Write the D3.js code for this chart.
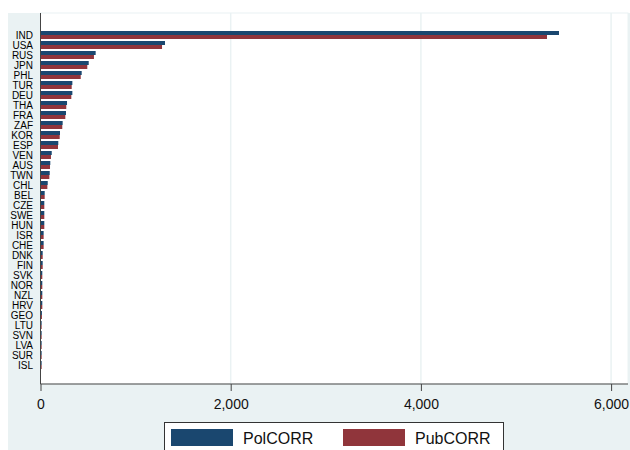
<!DOCTYPE html>
<html>
<head>
<meta charset="utf-8">
<script src="https://cdn.jsdelivr.net/npm/d3@7"></script>
<style>
  body { margin: 0; background: #fff; }
  svg text { font-family: "Liberation Sans", Arial, sans-serif; }
</style>
</head>
<body>
<script>
const w = 630;
const h = 450;

// data
const countries = ["IND","USA","RUS","JPN","PHL","TUR","DEU","THA","FRA","ZAF","KOR","ESP",
  "VEN","AUS","TWN","CHL","BEL","CZE","SWE","HUN","ISR","CHE","DNK","FIN",
  "SVK","NOR","NZL","HRV","GEO","LTU","SVN","LVA","SUR","ISL"];
const polCorr = [5452,1309,580,507,433,335,335,279,268,233,205,187,
  118,103,97,76,44,40,40,40,33,33,23,23,
  19,19,19,19,15,12,12,12,12,12];
const pubCorr = [5326,1278,562,492,423,328,324,271,261,229,202,184,
  110,100,93,72,44,40,40,40,33,33,23,23,
  19,19,19,19,15,12,12,12,12,12];
const seriesNames = ["PolCORR","PubCORR"];
const seriesColors = ["#1a476f","#90353b"];
const xTicks = [0,2000,4000,6000];

const plot = {left: 40.5, right: 628, top: 13, bottom: 384};

const svg = d3.select("body").append("svg")
  .attr("width", w)
  .attr("height", h);

// graph region
svg.append("rect")
  .attr("x", 8).attr("y", 13)
  .attr("width", w - 8).attr("height", h - 13)
  .attr("fill", "#eaf2f3");

// plot region
svg.append("rect")
  .attr("x", plot.left).attr("y", plot.top)
  .attr("width", plot.right - plot.left).attr("height", plot.bottom - plot.top)
  .attr("fill", "#fff")
  .attr("stroke", "#eaf2f3");

const xScale = d3.scaleLinear()
  .domain([0, 6000])
  .range([plot.left, plot.left + 6000 * 0.0951]);

// bars sit a little lower than centred in the plot
const yScale = d3.scaleBand()
  .domain(countries)
  .range([plot.top + 1.5, plot.bottom + 1.5])
  .paddingInner(0.2)
  .paddingOuter(1.65);

const ySub = d3.scaleBand()
  .domain(seriesNames)
  .range([0, yScale.bandwidth()]);

// gridlines
svg.append("g")
  .selectAll("line")
  .data(xTicks.slice(1))
  .enter()
  .append("line")
  .attr("x1", (d) => xScale(d)).attr("x2", (d) => xScale(d))
  .attr("y1", plot.top).attr("y2", plot.bottom)
  .attr("stroke", "#eaf2f3")
  .attr("stroke-width", 1.5);

const rows = countries.map((c, i) => ({c: c, vals: [polCorr[i], pubCorr[i]]}));

const groups = svg.append("g")
  .selectAll("g")
  .data(rows)
  .enter()
  .append("g")
  .attr("transform", (d) => "translate(0," + yScale(d.c) + ")");

groups.selectAll("rect")
  .data((d) => d.vals.map((v, j) => ({s: seriesNames[j], v: v, col: seriesColors[j]})))
  .enter()
  .append("rect")
  .attr("x", xScale(0))
  .attr("y", (d) => ySub(d.s))
  .attr("width", (d) => xScale(d.v) - xScale(0))
  .attr("height", ySub.bandwidth())
  .attr("fill", (d) => d.col);

// country labels
svg.append("g")
  .selectAll("text")
  .data(countries)
  .enter()
  .append("text")
  .attr("x", 33)
  .attr("y", (d) => yScale(d) + yScale.bandwidth() / 2)
  .attr("dy", "0.36em")
  .attr("text-anchor", "end")
  .attr("font-size", 10)
  .attr("fill", "#000")
  .text((d) => d);

// x axis
const xAxis = d3.axisBottom(xScale)
  .tickValues(xTicks)
  .tickFormat(d3.format(","))
  .tickSize(7)
  .tickPadding(8);

const gx = svg.append("g")
  .attr("transform", "translate(0," + plot.bottom + ")")
  .call(xAxis);
gx.select(".domain").remove();
gx.append("line")
  .attr("x1", plot.left).attr("x2", plot.right)
  .attr("stroke", "#444");
gx.selectAll(".tick line").attr("stroke", "#444");
gx.selectAll(".tick text")
  .attr("font-size", 14)
  .attr("font-family", "Liberation Sans, Arial, sans-serif")
  .attr("fill", "#111");

// y axis line
svg.append("line")
  .attr("x1", plot.left).attr("x2", plot.left)
  .attr("y1", plot.top).attr("y2", plot.bottom)
  .attr("stroke", "#444");

// legend
const legend = svg.append("g");
legend.append("rect")
  .attr("x", 164.5).attr("y", 422.5)
  .attr("width", 339).attr("height", 40)
  .attr("fill", "#fff")
  .attr("stroke", "#333");

const keyX = [171, 343];
seriesNames.forEach((s, i) => {
  legend.append("rect")
    .attr("x", keyX[i]).attr("y", 429)
    .attr("width", 62).attr("height", 17)
    .attr("fill", seriesColors[i]);
  legend.append("text")
    .attr("x", keyX[i] + 72).attr("y", 444)
    .attr("font-size", 16)
    .attr("fill", "#111")
    .text(s);
});
</script>
</body>
</html>
